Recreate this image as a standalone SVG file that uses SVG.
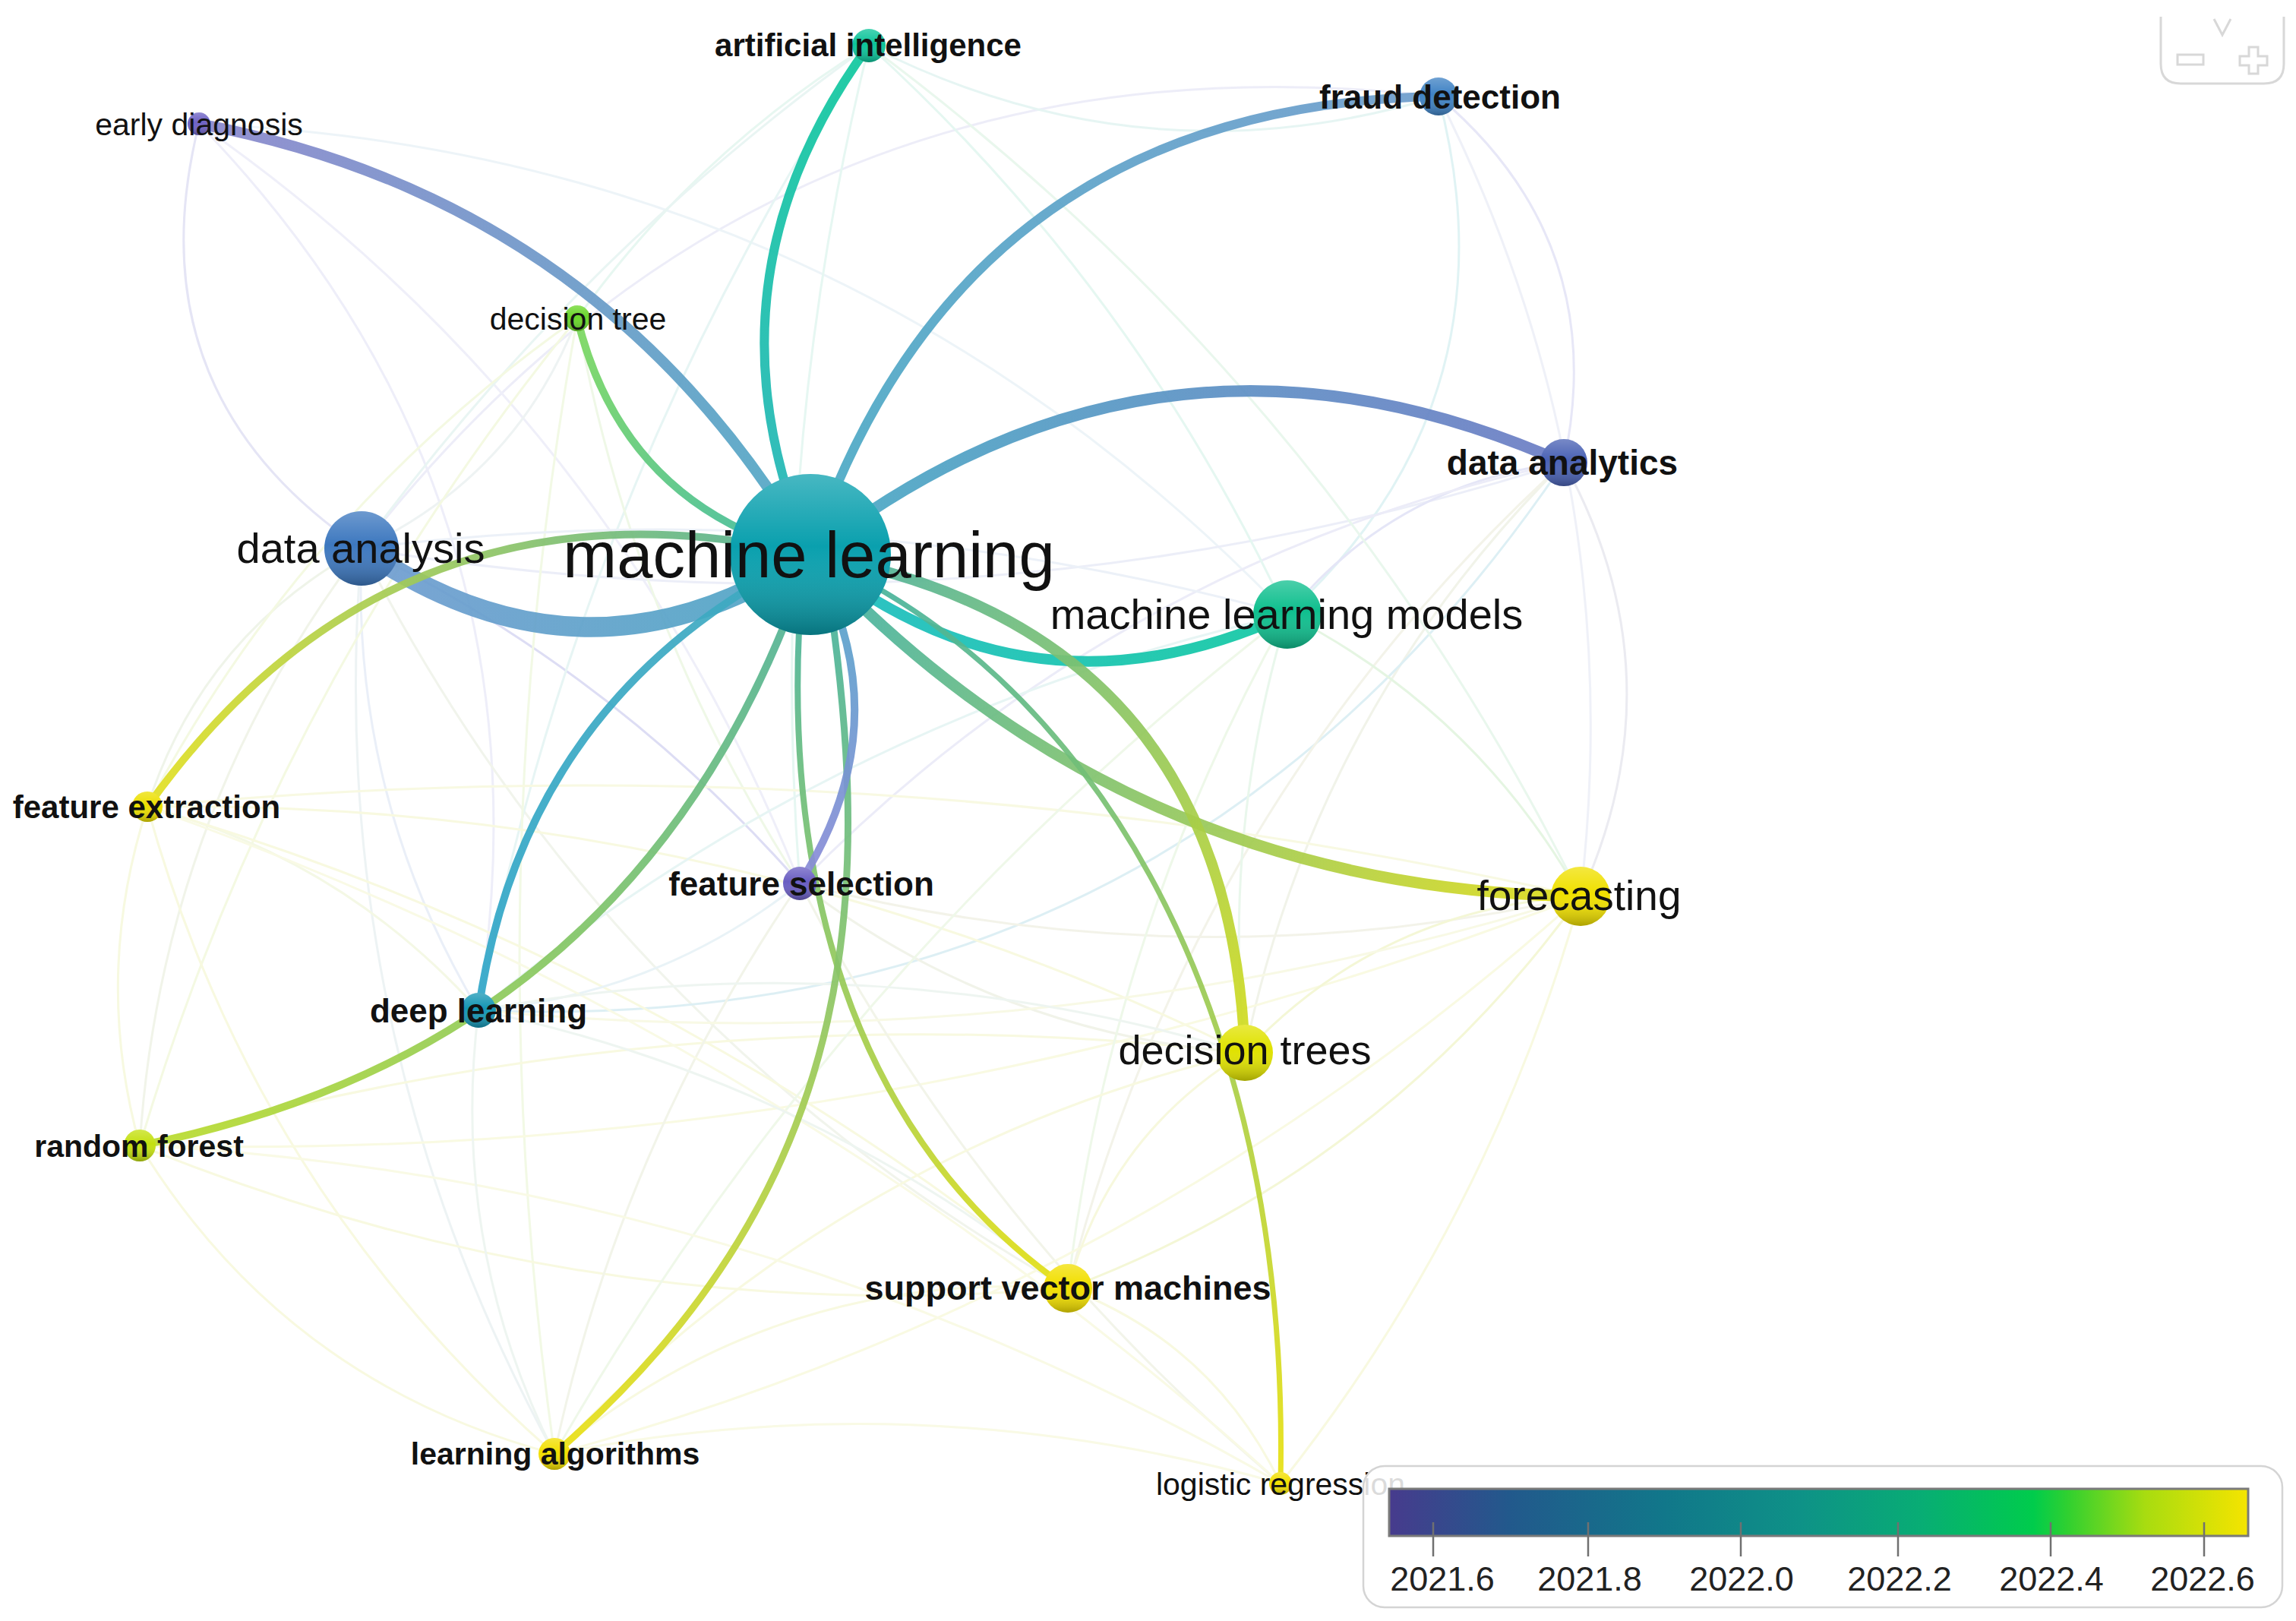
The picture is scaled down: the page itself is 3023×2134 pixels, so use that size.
<svg xmlns="http://www.w3.org/2000/svg" width="3023" height="2134" viewBox="0 0 3023 2134">
<style>
.lbl{font-family:"Liberation Sans",Arial,sans-serif;fill:#111;text-anchor:middle}
.b{font-weight:bold}
.f{fill:none;stroke-width:3;stroke-linecap:round}
.m{fill:none;stroke-linecap:round;stroke-opacity:0.92}
.sh{fill:url(#shade)}
.tick{stroke:#707070;stroke-width:2.5}
.tl{font-family:"Liberation Sans",Arial,sans-serif;font-size:45px;fill:#222;text-anchor:middle}
.ui{fill:none;stroke:#d8d8d8;stroke-width:3}
</style>
<defs>
<linearGradient id="shade" x1="0" y1="0" x2="0" y2="1">
<stop offset="0" stop-color="#fff" stop-opacity="0.25"/>
<stop offset="0.45" stop-color="#fff" stop-opacity="0"/>
<stop offset="1" stop-color="#000" stop-opacity="0.28"/>
</linearGradient>
<linearGradient id="legendGrad" x1="0" y1="0" x2="1" y2="0">
<stop offset="0" stop-color="#473b8d"/>
<stop offset="0.14" stop-color="#22598c"/>
<stop offset="0.32" stop-color="#11778a"/>
<stop offset="0.48" stop-color="#0e9287"/>
<stop offset="0.62" stop-color="#08ad74"/>
<stop offset="0.75" stop-color="#00cc4c"/>
<stop offset="0.79" stop-color="#30d030"/>
<stop offset="0.88" stop-color="#a8dc10"/>
<stop offset="1" stop-color="#f5e400"/>
</linearGradient>
<linearGradient id="gED" gradientUnits="userSpaceOnUse" x1="1067" y1="730" x2="262" y2="163"><stop offset="0" stop-color="#4eaac4"/><stop offset="1" stop-color="#8a86cc"/></linearGradient>
<linearGradient id="gAI" gradientUnits="userSpaceOnUse" x1="1067" y1="730" x2="1144" y2="60"><stop offset="0" stop-color="#24b4b8"/><stop offset="1" stop-color="#10c89e"/></linearGradient>
<linearGradient id="gFD" gradientUnits="userSpaceOnUse" x1="1067" y1="730" x2="1894" y2="127"><stop offset="0" stop-color="#48aac4"/><stop offset="1" stop-color="#6e9ccc"/></linearGradient>
<linearGradient id="gDAn" gradientUnits="userSpaceOnUse" x1="1067" y1="730" x2="2059" y2="609"><stop offset="0" stop-color="#48aac4"/><stop offset="1" stop-color="#6c7cc4"/></linearGradient>
<linearGradient id="gDA" gradientUnits="userSpaceOnUse" x1="1067" y1="730" x2="476" y2="722"><stop offset="0" stop-color="#4ea6c4"/><stop offset="1" stop-color="#709cd0"/></linearGradient>
<linearGradient id="gMLM" gradientUnits="userSpaceOnUse" x1="1067" y1="730" x2="1695" y2="809"><stop offset="0" stop-color="#1cbcc0"/><stop offset="1" stop-color="#10c8a2"/></linearGradient>
<linearGradient id="gFC" gradientUnits="userSpaceOnUse" x1="1067" y1="730" x2="2081" y2="1180"><stop offset="0" stop-color="#3eb0aa"/><stop offset="1" stop-color="#e0dc18"/></linearGradient>
<linearGradient id="gDT" gradientUnits="userSpaceOnUse" x1="1067" y1="730" x2="1639" y2="1386"><stop offset="0" stop-color="#48b0a4"/><stop offset="1" stop-color="#d4dc1c"/></linearGradient>
<linearGradient id="gLR" gradientUnits="userSpaceOnUse" x1="1067" y1="730" x2="1686" y2="1953"><stop offset="0" stop-color="#3eb0a4"/><stop offset="1" stop-color="#e8e010"/></linearGradient>
<linearGradient id="gFS" gradientUnits="userSpaceOnUse" x1="1067" y1="730" x2="1053" y2="1163"><stop offset="0" stop-color="#4ea8c8"/><stop offset="1" stop-color="#8c8ad8"/></linearGradient>
<linearGradient id="gSVM" gradientUnits="userSpaceOnUse" x1="1067" y1="730" x2="1406" y2="1696"><stop offset="0" stop-color="#3eb0a4"/><stop offset="1" stop-color="#e6e012"/></linearGradient>
<linearGradient id="gLA" gradientUnits="userSpaceOnUse" x1="1067" y1="730" x2="730" y2="1914"><stop offset="0" stop-color="#40b0a4"/><stop offset="1" stop-color="#ece014"/></linearGradient>
<linearGradient id="gDL" gradientUnits="userSpaceOnUse" x1="1067" y1="730" x2="630" y2="1330"><stop offset="0" stop-color="#40aac0"/><stop offset="1" stop-color="#30a6c8"/></linearGradient>
<linearGradient id="gRF" gradientUnits="userSpaceOnUse" x1="1067" y1="730" x2="184" y2="1508"><stop offset="0" stop-color="#4cb09c"/><stop offset="1" stop-color="#bcdc2c"/></linearGradient>
<linearGradient id="gFE" gradientUnits="userSpaceOnUse" x1="1067" y1="730" x2="194" y2="1062"><stop offset="0" stop-color="#50b098"/><stop offset="1" stop-color="#e4e020"/></linearGradient>
<linearGradient id="gDTree" gradientUnits="userSpaceOnUse" x1="1067" y1="730" x2="760" y2="419"><stop offset="0" stop-color="#3cb8a4"/><stop offset="1" stop-color="#7cd85c"/></linearGradient>
</defs>
<rect width="3023" height="2134" fill="#fff"/>

<g id="connectors">
<g id="faint-links" opacity="0.6">
<path class="f" stroke="#d4d4f0" stroke-width="7" d="M262,163 Q173,517 476,722"/>
<path class="f" stroke="#e4e4f6" stroke-width="4" d="M262,163 Q738,655 630,1330"/>
<path class="f" stroke="#e2e2f5" stroke-width="4" d="M476,722 Q1018,27 1894,127"/>
<path class="f" stroke="#e6e6f6" d="M262,163 Q807,544 1053,1163"/>
<path class="f" stroke="#e2eef4" d="M262,163 Q1108,199 1695,809"/>
<path class="f" stroke="#e6eedc" d="M476,722 Q267,836 194,1062"/>
<path class="f" stroke="#dde6f4" stroke-width="4" d="M476,722 Q462,1049 630,1330"/>
<path class="f" stroke="#e8eedc" d="M476,722 Q212,1071 184,1508"/>
<path class="f" stroke="#e2ecee" d="M476,722 Q424,1356 730,1914"/>
<path class="f" stroke="#c8c8ee" stroke-width="9" d="M476,722 Q809,885 1053,1163"/>
<path class="f" stroke="#e4ecec" d="M476,722 Q679,627 760,419"/>
<path class="f" stroke="#e8eee0" d="M476,722 Q795,1349 1406,1696"/>
<path class="f" stroke="#e0e4f4" d="M476,722 Q1281,855 2059,609"/>
<path class="f" stroke="#d8d8f2" stroke-width="6" d="M1894,127 Q2121,319 2059,609"/>
<path class="f" stroke="#cdecee" stroke-width="6" d="M1894,127 Q1999,528 1695,809"/>
<path class="f" stroke="#e6e8f4" d="M1894,127 Q2146,626 2081,1180"/>
<path class="f" stroke="#dedee8" stroke-width="7" d="M2059,609 Q2213,889 2081,1180"/>
<path class="f" stroke="#d4d6f2" stroke-width="7" d="M2059,609 Q1837,636 1695,809"/>
<path class="f" stroke="#e8ecdc" d="M2059,609 Q1732,935 1639,1386"/>
<path class="f" stroke="#e0e0f4" d="M2059,609 Q1473,735 1053,1163"/>
<path class="f" stroke="#c8e6ee" stroke-width="6" d="M2059,609 Q1546,1370 630,1330"/>
<path class="f" stroke="#ececdc" d="M2059,609 Q1570,1055 1406,1696"/>
<path class="f" stroke="#d8f2e8" stroke-width="4" d="M1144,60 Q916,201 760,419"/>
<path class="f" stroke="#dcf0ec" d="M1144,60 Q757,338 476,722"/>
<path class="f" stroke="#d4f2e8" stroke-width="4" d="M1144,60 Q1494,379 1695,809"/>
<path class="f" stroke="#dcf2e2" d="M1144,60 Q1747,508 2081,1180"/>
<path class="f" stroke="#d6f0ec" d="M1144,60 Q1506,244 1894,127"/>
<path class="f" stroke="#d8f0ee" d="M1144,60 Q760,644 630,1330"/>
<path class="f" stroke="#d6f2ea" d="M1144,60 Q1010,604 1053,1163"/>
<path class="f" stroke="#e6f4d8" d="M760,419 Q832,820 1053,1163"/>
<path class="f" stroke="#eaf6d4" d="M760,419 Q625,1164 730,1914"/>
<path class="f" stroke="#eef6d0" d="M760,419 Q400,672 194,1062"/>
<path class="f" stroke="#eef6d0" d="M760,419 Q363,906 184,1508"/>
<path class="f" stroke="#f2f6cc" d="M194,1062 Q122,1284 184,1508"/>
<path class="f" stroke="#f4f6cc" d="M194,1062 Q334,1568 730,1914"/>
<path class="f" stroke="#f4f6d0" d="M194,1062 Q1147,970 2081,1180"/>
<path class="f" stroke="#eef4d4" d="M194,1062 Q452,1131 630,1330"/>
<path class="f" stroke="#f4f6cc" d="M194,1062 Q863,1258 1406,1696"/>
<path class="f" stroke="#f4f6cc" d="M194,1062 Q955,1051 1639,1386"/>
<path class="f" stroke="#f4f6cc" d="M184,1508 Q376,1820 730,1914"/>
<path class="f" stroke="#f6f7d0" d="M184,1508 Q1165,1534 2081,1180"/>
<path class="f" stroke="#f4f6cc" d="M184,1508 Q772,1749 1406,1696"/>
<path class="f" stroke="#f4f6cc" d="M184,1508 Q899,1302 1639,1386"/>
<path class="f" stroke="#dcecf2" d="M630,1330 Q867,1310 1053,1163"/>
<path class="f" stroke="#ececdc" d="M1053,1163 Q1565,1295 2081,1180"/>
<path class="f" stroke="#e8ecdc" d="M1053,1163 Q1313,1362 1639,1386"/>
<path class="f" stroke="#eaeedc" d="M1053,1163 Q817,1507 730,1914"/>
<path class="f" stroke="#eaeedc" d="M1053,1163 Q1291,1621 1686,1953"/>
<path class="f" stroke="#d4f0d0" stroke-width="7" d="M1695,809 Q1944,937 2081,1180"/>
<path class="f" stroke="#dcf2e0" d="M1695,809 Q1609,1092 1639,1386"/>
<path class="f" stroke="#e4f4dc" d="M1695,809 Q1462,1224 1406,1696"/>
<path class="f" stroke="#e6f4dc" d="M1695,809 Q1102,1265 730,1914"/>
<path class="f" stroke="#d8f0ee" d="M1695,809 Q1100,942 630,1330"/>
<path class="f" stroke="#eef2bc" stroke-width="6" d="M2081,1180 Q1819,1195 1639,1386"/>
<path class="f" stroke="#eef2bc" stroke-width="8" d="M2081,1180 Q1821,1539 1406,1696"/>
<path class="f" stroke="#f6f7d0" d="M2081,1180 Q1494,1709 730,1914"/>
<path class="f" stroke="#f4f6cc" stroke-width="4" d="M2081,1180 Q1961,1606 1686,1953"/>
<path class="f" stroke="#f4f6d4" d="M2081,1180 Q1371,1400 630,1330"/>
<path class="f" stroke="#f2f5c8" stroke-width="4" d="M1639,1386 Q1461,1494 1406,1696"/>
<path class="f" stroke="#f4f6cc" d="M1639,1386 Q1105,1514 730,1914"/>
<path class="f" stroke="#f4f6cc" d="M1406,1696 Q1024,1670 730,1914"/>
<path class="f" stroke="#f4f6cc" d="M1406,1696 Q1597,1769 1686,1953"/>
<path class="f" stroke="#f6f7d4" d="M730,1914 Q1213,1819 1686,1953"/>
<path class="f" stroke="#f6f7d4" d="M184,1508 Q988,1550 1686,1953"/>
<path class="f" stroke="#f6f7d4" d="M194,1062 Q1029,1358 1686,1953"/>
<path class="f" stroke="#e4f0e8" d="M630,1330 Q592,1637 730,1914"/>
<path class="f" stroke="#e4f0e8" d="M630,1330 Q1062,1420 1406,1696"/>
<path class="f" stroke="#e4f0e8" d="M630,1330 Q1141,1237 1639,1386"/>
<path class="f" stroke="#e0e8f4" d="M476,722 Q1094,644 1695,809"/>
</g>
<g id="main-links">
<path class="m" stroke="url(#gED)" stroke-width="14" d="M1067,730 Q793,263 262,163"/>
<path class="m" stroke="url(#gAI)" stroke-width="12" d="M1067,730 Q915,373 1144,60"/>
<path class="m" stroke="url(#gFD)" stroke-width="12" d="M1067,730 Q1268,138 1894,127"/>
<path class="m" stroke="url(#gDAn)" stroke-width="15" d="M1067,730 Q1527,372 2059,609"/>
<path class="m" stroke="url(#gDA)" stroke-width="26" d="M1067,730 Q772,925 476,722"/>
<path class="m" stroke="url(#gMLM)" stroke-width="14" d="M1067,730 Q1356,964 1695,809"/>
<path class="m" stroke="url(#gFC)" stroke-width="15" d="M1067,730 Q1478,1171 2081,1180"/>
<path class="m" stroke="url(#gLR)" stroke-width="7" d="M1067,730 C1420,880 1700,1300 1686,1953"/>
<path class="m" stroke="url(#gDT)" stroke-width="14" d="M1067,730 Q1617,827 1639,1386"/>
<path class="m" stroke="url(#gSVM)" stroke-width="8" d="M1060,730 C1030,1000 1050,1450 1406,1696"/>
<path class="m" stroke="url(#gLA)" stroke-width="9" d="M1085,740 C1150,1150 1150,1550 730,1914"/>
<path class="m" stroke="url(#gFS)" stroke-width="10" d="M1067,730 Q1190,946 1053,1163"/>
<path class="m" stroke="url(#gDL)" stroke-width="10" d="M1067,730 Q690,915 630,1330"/>
<path class="m" stroke="url(#gRF)" stroke-width="10" d="M1067,730 Q852,1377 184,1508"/>
<path class="m" stroke="url(#gFE)" stroke-width="10" d="M1067,730 Q520,606 194,1062"/>
<path class="m" stroke="url(#gDTree)" stroke-width="10" d="M1067,730 Q821,666 760,419"/>
</g>
</g>

<g id="n-early-diagnosis"><circle cx="262" cy="163" r="15" fill="#6e62c4"/><circle class="sh" cx="262" cy="163" r="15"/><text class="lbl" x="262" y="178" font-size="41">early diagnosis</text></g>
<g id="n-artificial-intelligence"><circle cx="1144" cy="60" r="22" fill="#0cc49a"/><circle class="sh" cx="1144" cy="60" r="22"/><text class="lbl b" x="1143" y="74" font-size="42">artificial intelligence</text></g>
<g id="n-fraud-detection"><circle cx="1894" cy="127" r="25" fill="#3f82c4"/><circle class="sh" cx="1894" cy="127" r="25"/><text class="lbl b" x="1896" y="143" font-size="44">fraud detection</text></g>
<g id="n-decision-tree"><circle cx="760" cy="419" r="17" fill="#6ad62a"/><circle class="sh" cx="760" cy="419" r="17"/><text class="lbl" x="761" y="434" font-size="41">decision tree</text></g>
<g id="n-data-analytics"><circle cx="2059" cy="609" r="31" fill="#4a62b4"/><circle class="sh" cx="2059" cy="609" r="31"/><text class="lbl b" x="2057" y="625" font-size="46">data analytics</text></g>
<g id="n-data-analysis"><circle cx="476" cy="722" r="49" fill="#3d78bf"/><circle class="sh" cx="476" cy="722" r="49"/><text class="lbl" x="475" y="741" font-size="56">data analysis</text></g>
<g id="n-machine-learning-models"><circle cx="1695" cy="809" r="45" fill="#0fbf8e"/><circle class="sh" cx="1695" cy="809" r="45"/><text class="lbl" x="1694" y="828" font-size="56">machine learning models</text></g>
<g id="n-feature-extraction"><circle cx="194" cy="1062" r="20" fill="#ecdf00"/><circle class="sh" cx="194" cy="1062" r="20"/><text class="lbl b" x="193" y="1077" font-size="42">feature extraction</text></g>
<g id="n-feature-selection"><circle cx="1053" cy="1163" r="22" fill="#6a5ec2"/><circle class="sh" cx="1053" cy="1163" r="22"/><text class="lbl b" x="1055" y="1179" font-size="44">feature selection</text></g>
<g id="n-forecasting"><circle cx="2081" cy="1180" r="39" fill="#f0e000"/><circle class="sh" cx="2081" cy="1180" r="39"/><text class="lbl" x="2079" y="1198" font-size="55">forecasting</text></g>
<g id="n-deep-learning"><circle cx="630" cy="1330" r="23" fill="#1596b4"/><circle class="sh" cx="630" cy="1330" r="23"/><text class="lbl b" x="630" y="1346" font-size="44">deep learning</text></g>
<g id="n-decision-trees"><circle cx="1639" cy="1386" r="37" fill="#e0e200"/><circle class="sh" cx="1639" cy="1386" r="37"/><text class="lbl" x="1639" y="1401" font-size="54">decision trees</text></g>
<g id="n-random-forest"><circle cx="184" cy="1508" r="21" fill="#c4e010"/><circle class="sh" cx="184" cy="1508" r="21"/><text class="lbl b" x="183" y="1523" font-size="41">random forest</text></g>
<g id="n-support-vector-machines"><circle cx="1406" cy="1696" r="32" fill="#f2df00"/><circle class="sh" cx="1406" cy="1696" r="32"/><text class="lbl b" x="1406" y="1711" font-size="45">support vector machines</text></g>
<g id="n-learning-algorithms"><circle cx="730" cy="1914" r="21" fill="#f2df00"/><circle class="sh" cx="730" cy="1914" r="21"/><text class="lbl b" x="731" y="1928" font-size="41">learning algorithms</text></g>
<g id="n-logistic-regression"><circle cx="1686" cy="1953" r="15" fill="#f2df00"/><circle class="sh" cx="1686" cy="1953" r="15"/><text class="lbl" x="1686" y="1968" font-size="41">logistic regression</text></g>
<g id="n-machine-learning"><circle cx="1067" cy="730" r="106" fill="#0aa0ae"/><circle class="sh" cx="1067" cy="730" r="106"/><text class="lbl" x="1065" y="760" font-size="85">machine learning</text></g>

<g id="legend">
<rect x="1795" y="1930" width="1210" height="186" rx="28" fill="#fff" fill-opacity="0.85" stroke="#d4d4d4" stroke-width="2.5"/>
<rect x="1829" y="1960" width="1131" height="62" fill="url(#legendGrad)" stroke="#7a7a7a" stroke-width="3"/>
<line class="tick" x1="1887" y1="2004" x2="1887" y2="2049"/>
<line class="tick" x1="2091" y1="2004" x2="2091" y2="2049"/>
<line class="tick" x1="2292" y1="2004" x2="2292" y2="2049"/>
<line class="tick" x1="2499" y1="2004" x2="2499" y2="2049"/>
<line class="tick" x1="2700" y1="2004" x2="2700" y2="2049"/>
<line class="tick" x1="2902" y1="2004" x2="2902" y2="2049"/>
<text class="tl" x="1899" y="2094">2021.6</text>
<text class="tl" x="2093" y="2094">2021.8</text>
<text class="tl" x="2293" y="2094">2022.0</text>
<text class="tl" x="2501" y="2094">2022.2</text>
<text class="tl" x="2701" y="2094">2022.4</text>
<text class="tl" x="2900" y="2094">2022.6</text>
</g>

<g id="zoom-control">
<path class="ui" d="M2845,22 V84 Q2845,110 2871,110 H2981 Q3007,110 3007,84 V22"/>
<polyline class="ui" points="2915,25 2926,46 2937,25"/>
<rect class="ui" x="2867" y="72" width="34" height="13"/>
<path class="ui" d="M2961,62 H2973 V74 H2985 V86 H2973 V97 H2961 V86 H2949 V74 H2961 Z"/>
</g>
</svg>
